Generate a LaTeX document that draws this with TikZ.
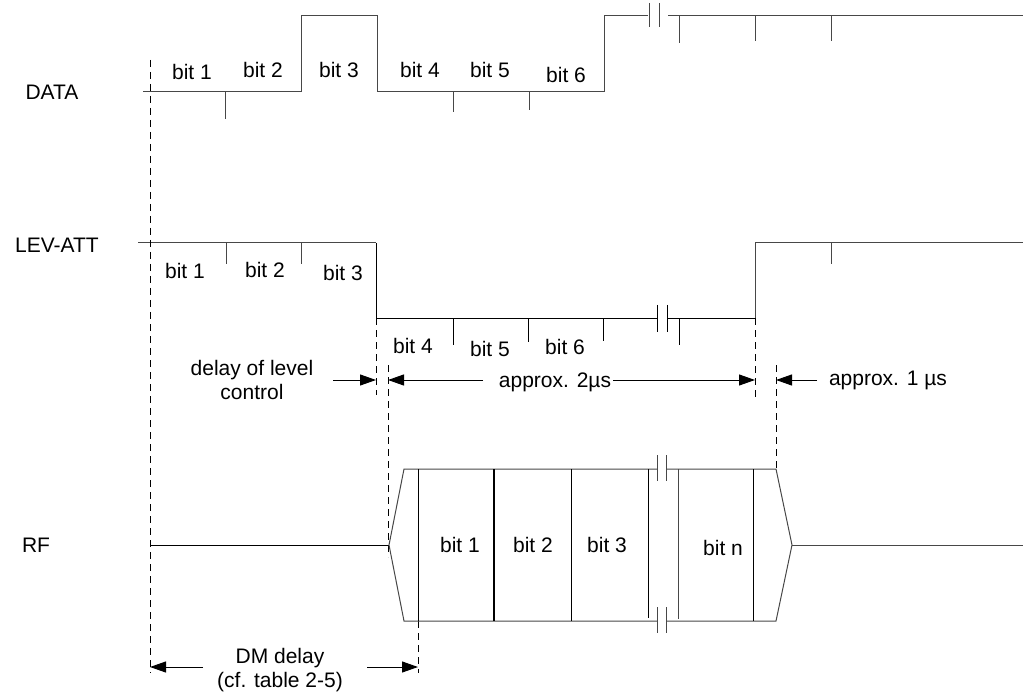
\documentclass[tikz,border=0pt]{standalone}
\usepackage{fontspec}
\setmainfont{Liberation Sans}
\usetikzlibrary{arrows.meta}
\begin{document}
\begin{tikzpicture}[x=1pt,y=-1pt,
  sig/.style={line width=1pt, draw=black!72},
  blk/.style={line width=1pt, draw=black},
  guide/.style={line width=1pt, draw=black, dash pattern=on 7pt off 5pt},
  dim/.style={line width=1pt, draw=black, -{Triangle[length=16pt,width=11pt]}},
  lbl/.style={anchor=base, inner sep=0pt, font=\fontsize{21}{25}\selectfont}]
\useasboundingbox (0,0) rectangle (1027,692);

% ---------- DATA ----------
\node[lbl] (dataL) at (52,100) {DATA};
\draw[sig] (143,92) -- (301,92) -- (301,16) -- (377,16) -- (377,92) -- (604,92) -- (604,16) -- (648,16);
\draw[sig] (649,3) -- (649,27) (659,3) -- (659,27);
\draw[sig] (668,16) -- (1023,16);
\draw[sig] (225,92) -- (225,119) (453,92) -- (453,112) (529,92) -- (529,110)
           (679,16) -- (679,43) (755,16) -- (755,41) (831,16) -- (831,41);
\node[lbl] (d1) at (192,80) {bit 1};
\node[lbl] (d2) at (263,78) {bit 2};
\node[lbl] (d3) at (339,78) {bit 3};
\node[lbl] (d4) at (420,78) {bit 4};
\node[lbl] (d5) at (490,78) {bit 5};
\node[lbl] (d6) at (566,83) {bit 6};

% ---------- LEV-ATT ----------
\node[lbl] (levL) at (57,253) {LEV-ATT};
\draw[sig] (138,243) -- (376,243);
\draw[blk] (376,243) -- (376,318) -- (657,318);
\draw[blk] (657,305) -- (657,332) (667,305) -- (667,332);
\draw[blk] (667,318) -- (755,318);
\draw[sig] (755,318) -- (755,243) -- (1023,243);
\draw[sig] (226,243) -- (226,264) (301,243) -- (301,264) (831,243) -- (831,264);
\draw[blk] (453,318) -- (453,345) (528,318) -- (528,342) (603,318) -- (603,341) (679,318) -- (679,345);
\node[lbl] (l1) at (185,279) {bit 1};
\node[lbl] (l2) at (265,278) {bit 2};
\node[lbl] (l3) at (343,281) {bit 3};
\node[lbl] (l4) at (413,353) {bit 4};
\node[lbl] (l5) at (490,356) {bit 5};
\node[lbl] (l6) at (565,354) {bit 6};

% ---------- guides ----------
\coordinate (g0t) at (150,60);   \coordinate (g0b) at (150,673);
\coordinate (g1t) at (376,318);  \coordinate (g1b) at (376,395);
\coordinate (g2t) at (388,365);  \coordinate (g2b) at (388,557);
\coordinate (g3t) at (755,318);  \coordinate (g3b) at (755,397);
\coordinate (g4t) at (776,365);  \coordinate (g4b) at (776,469);
\coordinate (g5t) at (418,621);  \coordinate (g5b) at (418,673);
\draw[guide] (g0t) -- (g0b);
\draw[guide] (g1t) -- (g1b);
\draw[guide] (g2t) -- (g2b);
\draw[guide] (g3t) -- (g3b);
\draw[guide] (g4t) -- (g4b);
\draw[guide] (g5t) -- (g5b);

% ---------- dimension annotations ----------
\node[lbl] (dlc1) at (252,375) {delay of level};
\node[lbl] (dlc2) at (252,399) {control};
\coordinate (a1s) at (333,380); \coordinate (a1e) at (376,380);
\draw[dim] (a1s) -- (a1e);

\node[lbl] (ap2) at (555,387) {approx. 2µs};
\coordinate (a2s) at (483,380); \coordinate (a2e) at (388,380);
\coordinate (a3s) at (613,380); \coordinate (a3e) at (755,380);
\draw[dim] (a2s) -- (a2e);
\draw[dim] (a3s) -- (a3e);

\node[lbl] (ap1) at (888,385) {approx. 1 µs};
\coordinate (a4s) at (817,380); \coordinate (a4e) at (776,380);
\draw[dim] (a4s) -- (a4e);

\node[lbl] (dm1) at (280,663) {DM delay};
\node[lbl] (dm2) at (280,687) {(cf. table 2-5)};
\coordinate (a5s) at (203,667); \coordinate (a5e) at (150,667);
\coordinate (a6s) at (367,667); \coordinate (a6e) at (418,667);
\draw[dim] (a5s) -- (a5e);
\draw[dim] (a6s) -- (a6e);

% ---------- RF ----------
\node[lbl] (rfL) at (36,552) {RF};
\draw[blk] (150,545) -- (389,545);
\draw[sig] (657,469) -- (404,469) -- (389,545) -- (404,621) -- (657,621);
\draw[sig] (666,469) -- (776,469) -- (792,545) -- (776,621) -- (666,621);
\draw[sig] (657,455) -- (657,481) (666,455) -- (666,481)
           (657,607) -- (657,633) (666,607) -- (666,633);
\draw[sig] (792,545) -- (1023,545);
\draw[blk] (418,469) -- (418,621);
\draw[blk, line width=1.4pt] (494,469) -- (494,621);
\draw[blk] (571,469) -- (571,621);
\draw[blk] (648,469) -- (648,618);
\draw[sig] (678,469) -- (678,619);
\draw[blk] (753,469) -- (753,621);
\node[lbl] (r1) at (460,552) {bit 1};
\node[lbl] (r2) at (533,552) {bit 2};
\node[lbl] (r3) at (607,552) {bit 3};
\node[lbl] (rn) at (723,555) {bit n};
\end{tikzpicture}
\end{document}
